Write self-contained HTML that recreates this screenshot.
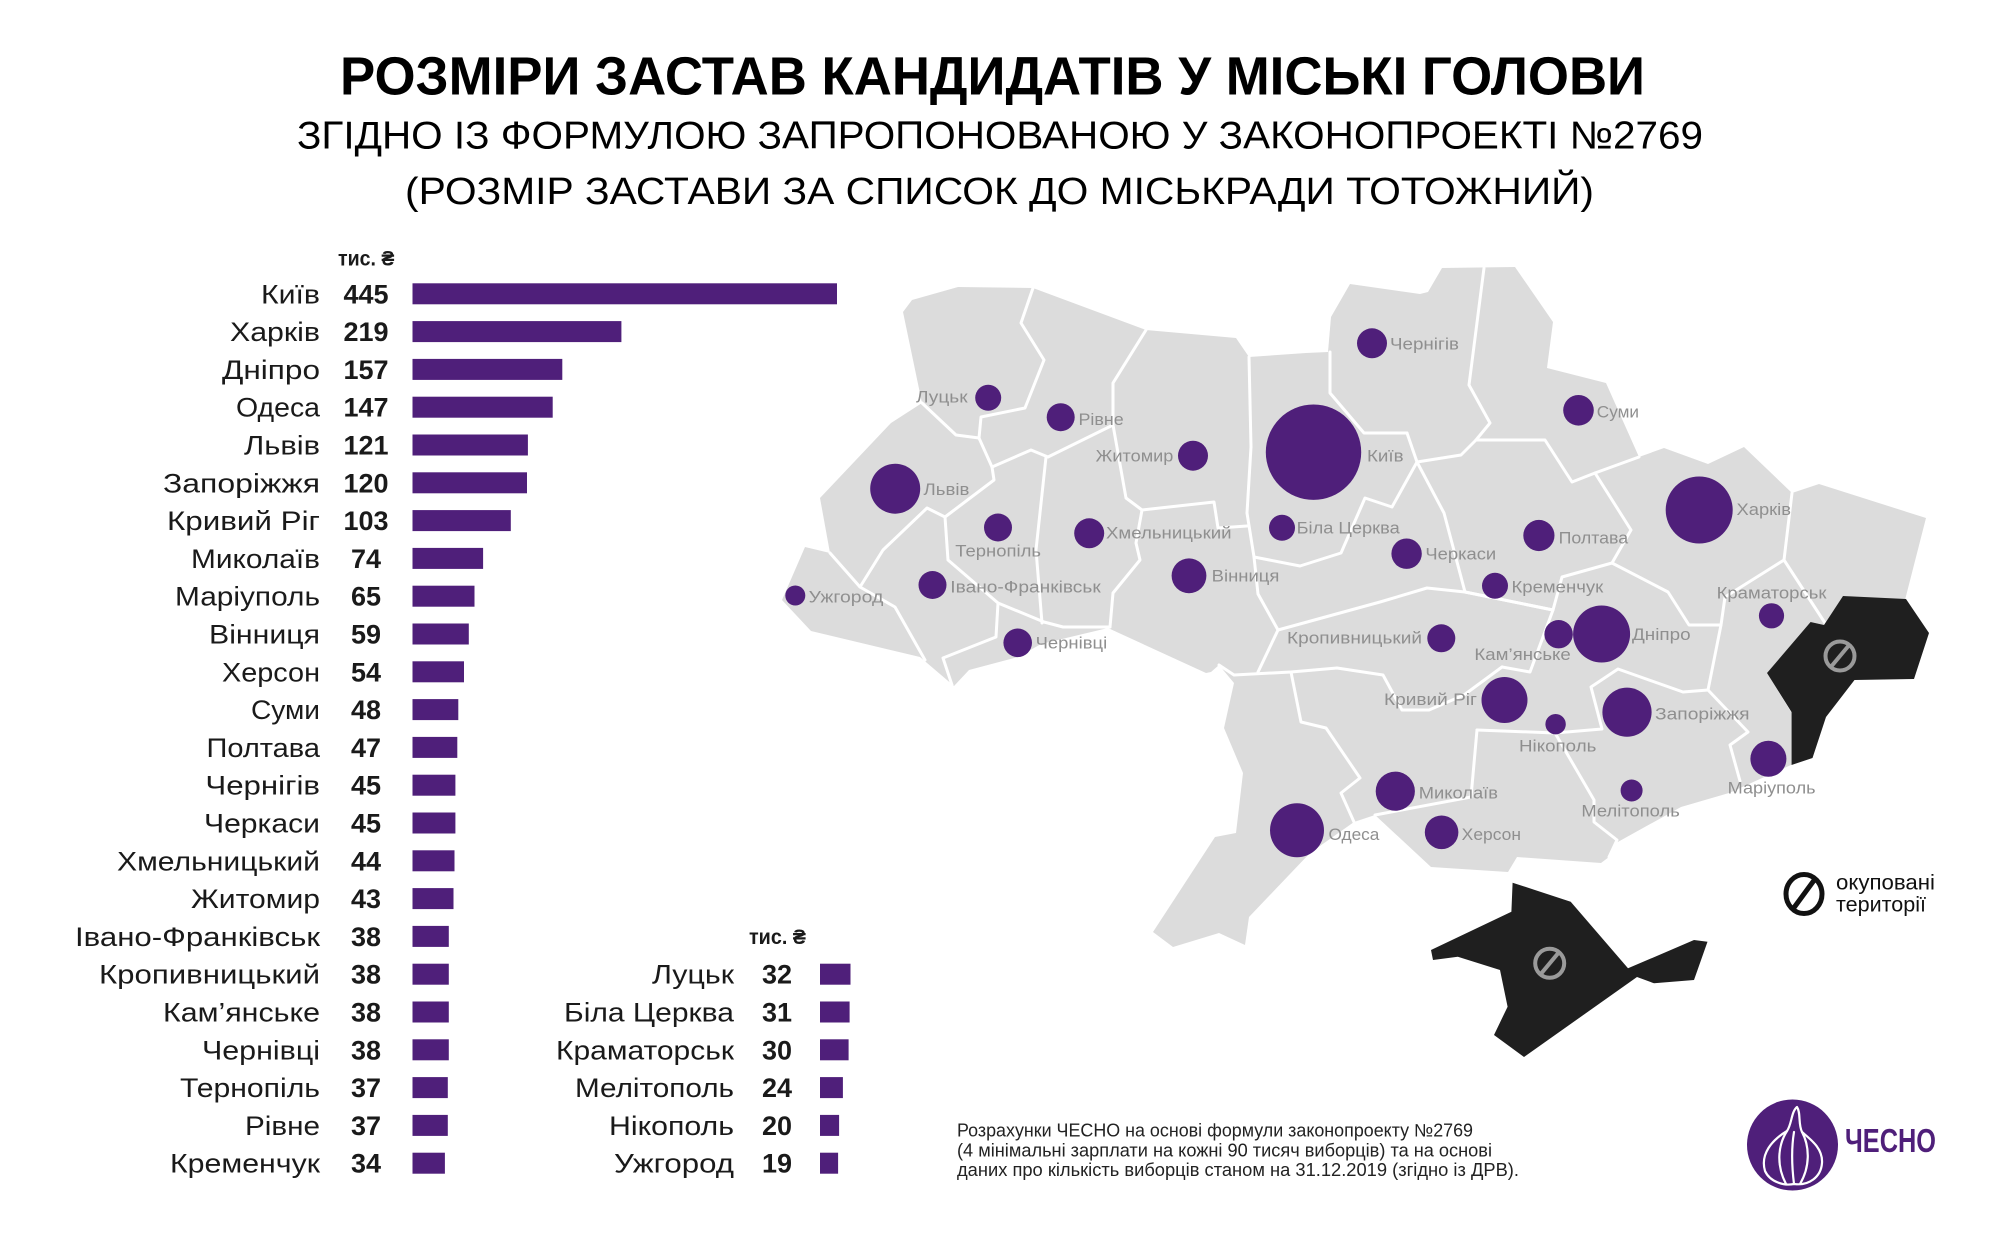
<!DOCTYPE html>
<html>
<head>
<meta charset="utf-8">
<style>
html,body{margin:0;padding:0;background:#fff;}
svg{display:block;}
text{font-family:"Liberation Sans","DejaVu Sans",sans-serif;}
</style>
</head>
<body>
<svg width="1999" height="1237" viewBox="0 0 1999 1237" xmlns="http://www.w3.org/2000/svg">
<rect width="1999" height="1237" fill="#fff"/>

<!-- Titles -->
<text x="340" y="94.3" font-size="54" font-weight="bold" fill="#000" textLength="1305" lengthAdjust="spacingAndGlyphs">РОЗМІРИ ЗАСТАВ КАНДИДАТІВ У МІСЬКІ ГОЛОВИ</text>
<text x="297" y="148.3" font-size="39" fill="#000" textLength="1406" lengthAdjust="spacingAndGlyphs">ЗГІДНО ІЗ ФОРМУЛОЮ ЗАПРОПОНОВАНОЮ У ЗАКОНОПРОЕКТІ №2769</text>
<text x="405" y="204" font-size="38" fill="#000" textLength="1189" lengthAdjust="spacingAndGlyphs">(РОЗМІР ЗАСТАВИ ЗА СПИСОК ДО МІСЬКРАДИ ТОТОЖНИЙ)</text>

<!-- Map -->
<g id="map">
<polygon fill="#dcdcdc" points="903,312 912,300 958,287 1033,288 1146,330 1236,338 1249,357 1306,353 1328,352 1331,317 1350,284 1420,294 1428,292 1442,268 1515,267 1553,322 1547,368 1606,383 1639,457 1664,448 1708,464 1744,447 1792,493 1819,484 1926,518 1905,600 1843,596 1824,625 1811,622 1767,673 1791,712 1791,765 1729,793 1681,807 1616,843 1609,857 1601,863 1517,857 1508,872 1431,867 1375,815 1354,822 1310,853 1249,917 1245,945 1219,933 1173,947 1153,932 1215,837 1236,833 1243,773 1224,728 1234,683 1219,665 1211,672 1206,673 1108,628 1041,644 1018,657 969,670 954,686 920,657 811,631 782,600 805,547 830,553 820,498 891,423 922,403"/>
<g fill="none" stroke="#fff" stroke-width="3" stroke-linejoin="round" stroke-linecap="round">
<polyline points="1033,288 1021,323 1044,360 1025,408 981,417 979,438 956,435 922,403"/>
<polyline points="979,438 992,467 994,480 945,517 927,508 883,550 860,587 830,553"/>
<polyline points="860,587 895,607 925,660"/>
<polyline points="992,467 1031,450 1048,457 1113,425 1113,383 1146,330"/>
<polyline points="945,517 948,560 998,603 996,637 943,658 952,685"/>
<polyline points="1046,457 1036,550 1042,623"/>
<polyline points="998,603 1044,622 1063,627 1110,627"/>
<polyline points="1113,425 1126,498 1142,510 1214,502 1218,528 1247,526"/>
<polyline points="1142,510 1136,543 1140,560 1113,593 1110,627"/>
<polyline points="1249,357 1251,447 1247,513 1254,557 1258,594 1278,630 1258,672"/>
<polyline points="1278,630 1380,602 1427,588 1465,592 1553,610"/>
<polyline points="1330,352 1330,393 1364,433 1407,433"/>
<polyline points="1254,557 1300,566 1341,553 1365,498 1392,507 1417,462 1407,433"/>
<polyline points="1484,268 1469,385 1490,423 1476,440 1461,455 1417,462"/>
<polyline points="1476,440 1545,440 1572,482 1595,473 1639,457"/>
<polyline points="1417,462 1444,513 1465,592"/>
<polyline points="1465,592 1553,610 1562,577 1612,563 1631,530 1595,473"/>
<polyline points="1612,563 1668,592 1689,625 1721,625 1725,597 1784,560 1792,493"/>
<polyline points="1784,560 1825,623"/>
<polyline points="1721,625 1708,690 1748,732 1730,745 1740,781"/>
<polyline points="1708,690 1683,692 1618,669 1591,687 1602,729 1555,733 1477,730"/>
<polyline points="1553,610 1530,672 1502,667"/>
<polyline points="1219,665 1234,675 1291,672 1337,668 1383,675 1402,710 1429,710 1464,695 1502,667"/>
<polyline points="1291,672 1301,722 1326,728 1360,778 1341,793 1354,822"/>
<polyline points="1375,815 1471,797 1477,730"/>
<polyline points="1555,733 1594,800 1594,822 1617,840 1609,857"/>
</g>

<!-- Occupied territories -->
<polygon fill="#1f1f1f" points="1767,673 1810.6,622 1824,625 1843,596 1906,599 1929,633 1914,679 1854.5,680 1826,717 1812.5,758 1791.5,765 1791.5,712"/>
<polygon fill="#1f1f1f" points="1431,950 1511.4,911.7 1512.6,882.7 1570.7,901.7 1628,968.3 1694,940 1707.5,941.7 1694,980 1654,983.3 1637,977 1524,1057 1494,1035 1507.6,1006.7 1500,970 1457.8,956.7 1433,960"/>
<g fill="none" stroke="#9a9a9a" stroke-width="4">
<circle cx="1840" cy="656" r="14.5"/>
<line x1="1850" y1="644" x2="1830" y2="668"/>
<circle cx="1549.7" cy="963.3" r="14.5"/>
<line x1="1559.7" y1="951.3" x2="1539.7" y2="975.3"/>
</g>

<!-- Circles -->
<g fill="#4f1f7a">
<circle cx="988.2" cy="397.8" r="13"/>
<circle cx="1060.7" cy="417.2" r="14"/>
<circle cx="895.2" cy="488.7" r="25"/>
<circle cx="1193" cy="455.7" r="15"/>
<circle cx="1313.5" cy="452.2" r="47.7"/>
<circle cx="998" cy="527.5" r="14"/>
<circle cx="1089.2" cy="533.3" r="15"/>
<circle cx="1282" cy="527.8" r="13"/>
<circle cx="1189" cy="575.8" r="17.4"/>
<circle cx="932.5" cy="585" r="14"/>
<circle cx="795.3" cy="595.5" r="10"/>
<circle cx="1017.7" cy="642.8" r="14.3"/>
<circle cx="1372" cy="343.3" r="15"/>
<circle cx="1578.5" cy="410.3" r="15.3"/>
<circle cx="1699.2" cy="510" r="33.5"/>
<circle cx="1538.9" cy="535.5" r="15.6"/>
<circle cx="1406.6" cy="553.7" r="15.2"/>
<circle cx="1495" cy="585.8" r="13"/>
<circle cx="1771.5" cy="615.8" r="12.6"/>
<circle cx="1558.6" cy="634.2" r="14.2"/>
<circle cx="1601.6" cy="634" r="28.5"/>
<circle cx="1441.3" cy="638.3" r="14"/>
<circle cx="1504.5" cy="700" r="23"/>
<circle cx="1555.6" cy="724.2" r="10.2"/>
<circle cx="1627" cy="712.2" r="24.6"/>
<circle cx="1395.3" cy="791.2" r="19.6"/>
<circle cx="1297" cy="830.3" r="27"/>
<circle cx="1441.6" cy="832.3" r="16.8"/>
<circle cx="1631.6" cy="790.5" r="11"/>
<circle cx="1768.4" cy="758.8" r="18"/>
</g>

<!-- Map labels -->
<g font-size="17" fill="#8f8f8f">
<text x="916" y="402.7" textLength="51.6" lengthAdjust="spacingAndGlyphs">Луцьк</text>
<text x="1078.5" y="425" textLength="45.2" lengthAdjust="spacingAndGlyphs">Рівне</text>
<text x="1095.7" y="461.7" textLength="77.7" lengthAdjust="spacingAndGlyphs">Житомир</text>
<text x="923.5" y="495" textLength="45.9" lengthAdjust="spacingAndGlyphs">Львів</text>
<text x="955.3" y="556.7" textLength="85.7" lengthAdjust="spacingAndGlyphs">Тернопіль</text>
<text x="1106" y="538.3" textLength="125.6" lengthAdjust="spacingAndGlyphs">Хмельницький</text>
<text x="1296.6" y="533.3" textLength="103.1" lengthAdjust="spacingAndGlyphs">Біла Церква</text>
<text x="1211.7" y="581.7" textLength="67.7" lengthAdjust="spacingAndGlyphs">Вінниця</text>
<text x="950.3" y="592.3" textLength="150.4" lengthAdjust="spacingAndGlyphs">Івано-Франківськ</text>
<text x="808.7" y="602.3" textLength="74.6" lengthAdjust="spacingAndGlyphs">Ужгород</text>
<text x="1035.6" y="648.3" textLength="71.6" lengthAdjust="spacingAndGlyphs">Чернівці</text>
<text x="1287" y="643.3" textLength="135" lengthAdjust="spacingAndGlyphs">Кропивницький</text>
<text x="1390" y="349.3" textLength="69" lengthAdjust="spacingAndGlyphs">Чернігів</text>
<text x="1596.8" y="417.7" textLength="42.2" lengthAdjust="spacingAndGlyphs">Суми</text>
<text x="1367" y="461.7" textLength="36.6" lengthAdjust="spacingAndGlyphs">Київ</text>
<text x="1736.5" y="515" textLength="54.5" lengthAdjust="spacingAndGlyphs">Харків</text>
<text x="1558.6" y="543.3" textLength="69.6" lengthAdjust="spacingAndGlyphs">Полтава</text>
<text x="1425.4" y="559.3" textLength="70.8" lengthAdjust="spacingAndGlyphs">Черкаси</text>
<text x="1511.5" y="592.3" textLength="91.8" lengthAdjust="spacingAndGlyphs">Кременчук</text>
<text x="1716.6" y="598.3" textLength="109.9" lengthAdjust="spacingAndGlyphs">Краматорськ</text>
<text x="1632" y="640" textLength="58.6" lengthAdjust="spacingAndGlyphs">Дніпро</text>
<text x="1474.4" y="660" textLength="96.4" lengthAdjust="spacingAndGlyphs">Кам’янське</text>
<text x="1384" y="705" textLength="93" lengthAdjust="spacingAndGlyphs">Кривий Ріг</text>
<text x="1519" y="751.7" textLength="77.4" lengthAdjust="spacingAndGlyphs">Нікополь</text>
<text x="1418.8" y="798.3" textLength="79.2" lengthAdjust="spacingAndGlyphs">Миколаїв</text>
<text x="1328.5" y="840" textLength="50.9" lengthAdjust="spacingAndGlyphs">Одеса</text>
<text x="1461.7" y="840" textLength="59.3" lengthAdjust="spacingAndGlyphs">Херсон</text>
<text x="1581.4" y="816.7" textLength="98.4" lengthAdjust="spacingAndGlyphs">Мелітополь</text>
<text x="1655" y="719.3" textLength="94.5" lengthAdjust="spacingAndGlyphs">Запоріжжя</text>
<text x="1727.7" y="793.3" textLength="87.9" lengthAdjust="spacingAndGlyphs">Маріуполь</text>
</g>
</g>

<!-- Legend occupied -->
<g fill="none" stroke="#111" stroke-width="5">
<ellipse cx="1804" cy="894" rx="18" ry="19.5"/>
<line x1="1815" y1="879" x2="1793" y2="909"/>
</g>
<text x="1836" y="889.3" font-size="21" fill="#111" textLength="99" lengthAdjust="spacingAndGlyphs">окуповані</text>
<text x="1836" y="911.5" font-size="21" fill="#111" textLength="90" lengthAdjust="spacingAndGlyphs">території</text>

<!-- Bar chart column 1 -->
<text x="338" y="265.5" font-size="21" font-weight="bold" fill="#1a1a1a" textLength="56.5" lengthAdjust="spacingAndGlyphs">тис. ₴</text>
<g font-size="27" fill="#1a1a1a">
<text x="261" y="303.3" textLength="59" lengthAdjust="spacingAndGlyphs">Київ</text>
<text x="230" y="341.1" textLength="90" lengthAdjust="spacingAndGlyphs">Харків</text>
<text x="222" y="378.9" textLength="98" lengthAdjust="spacingAndGlyphs">Дніпро</text>
<text x="236" y="416.7" textLength="84" lengthAdjust="spacingAndGlyphs">Одеса</text>
<text x="244" y="454.5" textLength="76" lengthAdjust="spacingAndGlyphs">Львів</text>
<text x="163" y="492.3" textLength="157" lengthAdjust="spacingAndGlyphs">Запоріжжя</text>
<text x="167" y="530.1" textLength="153" lengthAdjust="spacingAndGlyphs">Кривий Ріг</text>
<text x="191" y="567.9" textLength="129" lengthAdjust="spacingAndGlyphs">Миколаїв</text>
<text x="175" y="605.7" textLength="145" lengthAdjust="spacingAndGlyphs">Маріуполь</text>
<text x="209" y="643.5" textLength="111" lengthAdjust="spacingAndGlyphs">Вінниця</text>
<text x="222" y="681.3" textLength="98" lengthAdjust="spacingAndGlyphs">Херсон</text>
<text x="251" y="719.1" textLength="69" lengthAdjust="spacingAndGlyphs">Суми</text>
<text x="206.5" y="756.9" textLength="113.5" lengthAdjust="spacingAndGlyphs">Полтава</text>
<text x="205.4" y="794.7" textLength="114.6" lengthAdjust="spacingAndGlyphs">Чернігів</text>
<text x="204" y="832.5" textLength="116" lengthAdjust="spacingAndGlyphs">Черкаси</text>
<text x="117" y="870.3" textLength="203" lengthAdjust="spacingAndGlyphs">Хмельницький</text>
<text x="191" y="908.1" textLength="129" lengthAdjust="spacingAndGlyphs">Житомир</text>
<text x="75" y="945.9" textLength="245" lengthAdjust="spacingAndGlyphs">Івано-Франківськ</text>
<text x="99" y="983.7" textLength="221" lengthAdjust="spacingAndGlyphs">Кропивницький</text>
<text x="163" y="1021.5" textLength="157" lengthAdjust="spacingAndGlyphs">Кам’янське</text>
<text x="202" y="1059.3" textLength="118" lengthAdjust="spacingAndGlyphs">Чернівці</text>
<text x="180" y="1097.1" textLength="140" lengthAdjust="spacingAndGlyphs">Тернопіль</text>
<text x="245" y="1134.9" textLength="75" lengthAdjust="spacingAndGlyphs">Рівне</text>
<text x="170" y="1172.7" textLength="150" lengthAdjust="spacingAndGlyphs">Кременчук</text>
</g>
<g font-size="27" font-weight="bold" fill="#1a1a1a" text-anchor="middle">
<text x="366" y="303.3">445</text>
<text x="366" y="341.1">219</text>
<text x="366" y="378.9">157</text>
<text x="366" y="416.7">147</text>
<text x="366" y="454.5">121</text>
<text x="366" y="492.3">120</text>
<text x="366" y="530.1">103</text>
<text x="366" y="567.9">74</text>
<text x="366" y="605.7">65</text>
<text x="366" y="643.5">59</text>
<text x="366" y="681.3">54</text>
<text x="366" y="719.1">48</text>
<text x="366" y="756.9">47</text>
<text x="366" y="794.7">45</text>
<text x="366" y="832.5">45</text>
<text x="366" y="870.3">44</text>
<text x="366" y="908.1">43</text>
<text x="366" y="945.9">38</text>
<text x="366" y="983.7">38</text>
<text x="366" y="1021.5">38</text>
<text x="366" y="1059.3">38</text>
<text x="366" y="1097.1">37</text>
<text x="366" y="1134.9">37</text>
<text x="366" y="1172.7">34</text>
</g>
<g fill="#4f1f7a">
<rect x="412.5" y="283.3" width="424.5" height="21"/>
<rect x="412.5" y="321.1" width="208.9" height="21"/>
<rect x="412.5" y="358.9" width="149.8" height="21"/>
<rect x="412.5" y="396.7" width="140.2" height="21"/>
<rect x="412.5" y="434.5" width="115.4" height="21"/>
<rect x="412.5" y="472.3" width="114.5" height="21"/>
<rect x="412.5" y="510.1" width="98.3" height="21"/>
<rect x="412.5" y="547.9" width="70.6" height="21"/>
<rect x="412.5" y="585.7" width="62" height="21"/>
<rect x="412.5" y="623.5" width="56.3" height="21"/>
<rect x="412.5" y="661.3" width="51.5" height="21"/>
<rect x="412.5" y="699.1" width="45.8" height="21"/>
<rect x="412.5" y="736.9" width="44.8" height="21"/>
<rect x="412.5" y="774.7" width="42.9" height="21"/>
<rect x="412.5" y="812.5" width="42.9" height="21"/>
<rect x="412.5" y="850.3" width="42" height="21"/>
<rect x="412.5" y="888.1" width="41" height="21"/>
<rect x="412.5" y="925.9" width="36.3" height="21"/>
<rect x="412.5" y="963.7" width="36.3" height="21"/>
<rect x="412.5" y="1001.5" width="36.3" height="21"/>
<rect x="412.5" y="1039.3" width="36.3" height="21"/>
<rect x="412.5" y="1077.1" width="35.3" height="21"/>
<rect x="412.5" y="1114.9" width="35.3" height="21"/>
<rect x="412.5" y="1152.7" width="32.4" height="21"/>
</g>

<!-- Bar chart column 2 -->
<text x="749" y="944" font-size="21" font-weight="bold" fill="#1a1a1a" textLength="57" lengthAdjust="spacingAndGlyphs">тис. ₴</text>
<g font-size="27" fill="#1a1a1a">
<text x="652" y="983.7" textLength="82" lengthAdjust="spacingAndGlyphs">Луцьк</text>
<text x="564" y="1021.5" textLength="170" lengthAdjust="spacingAndGlyphs">Біла Церква</text>
<text x="556" y="1059.3" textLength="178" lengthAdjust="spacingAndGlyphs">Краматорськ</text>
<text x="575" y="1097.1" textLength="159" lengthAdjust="spacingAndGlyphs">Мелітополь</text>
<text x="609" y="1134.9" textLength="125" lengthAdjust="spacingAndGlyphs">Нікополь</text>
<text x="614" y="1172.7" textLength="120" lengthAdjust="spacingAndGlyphs">Ужгород</text>
</g>
<g font-size="27" font-weight="bold" fill="#1a1a1a" text-anchor="middle">
<text x="777" y="983.7">32</text>
<text x="777" y="1021.5">31</text>
<text x="777" y="1059.3">30</text>
<text x="777" y="1097.1">24</text>
<text x="777" y="1134.9">20</text>
<text x="777" y="1172.7">19</text>
</g>
<g fill="#4f1f7a">
<rect x="820" y="963.7" width="30.5" height="21"/>
<rect x="820" y="1001.5" width="29.6" height="21"/>
<rect x="820" y="1039.3" width="28.6" height="21"/>
<rect x="820" y="1077.1" width="22.9" height="21"/>
<rect x="820" y="1114.9" width="19.1" height="21"/>
<rect x="820" y="1152.7" width="18.1" height="21"/>
</g>

<!-- Footer note -->
<g font-size="18" fill="#222">
<text x="957" y="1136.7" textLength="516" lengthAdjust="spacingAndGlyphs">Розрахунки ЧЕСНО на основі формули законопроекту №2769</text>
<text x="957" y="1156.4" textLength="535" lengthAdjust="spacingAndGlyphs">(4 мінімальні зарплати на кожні 90 тисяч виборців) та на основі</text>
<text x="957" y="1176" textLength="562" lengthAdjust="spacingAndGlyphs">даних про кількість виборців станом на 31.12.2019 (згідно із ДРВ).</text>
</g>

<!-- Logo -->
<circle cx="1792.5" cy="1145" r="45.5" fill="#4f1f7a"/>
<g fill="none" stroke="#fff" stroke-width="2.2" stroke-linejoin="round" stroke-linecap="round">
<path d="M1797,1107 C1791,1112 1792,1124 1787,1131 C1772,1140 1760,1154 1765,1171 C1770,1182 1784,1186 1794,1184 C1809,1186 1821,1177 1822,1163 C1823,1148 1810,1139 1802,1132 C1798,1124 1801,1113 1797,1107 Z"/>
<path d="M1787,1131 C1778,1145 1776,1165 1786,1184"/>
<path d="M1802,1132 C1810,1147 1810,1167 1800,1184"/>
<path d="M1794,1132 C1791,1150 1792,1168 1794,1184"/>
</g>
<text x="1845" y="1152" font-size="33" font-weight="bold" fill="#4f1f7a" textLength="91" lengthAdjust="spacingAndGlyphs">ЧЕСНО</text>
</svg>
</body>
</html>
